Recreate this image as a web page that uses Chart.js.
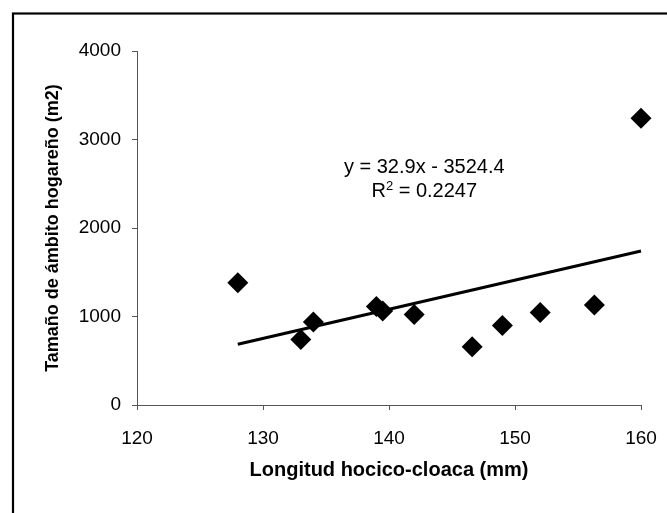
<!DOCTYPE html>
<html>
<head>
<meta charset="utf-8">
<script src="https://cdn.jsdelivr.net/npm/chart.js@4/dist/chart.umd.min.js"></script>
<style>
  html, body { margin: 0; padding: 0; background: #fff; }
  #wrap { width: 667px; height: 513px; }
</style>
</head>
<body>
<div id="wrap"><canvas id="c" width="667" height="513"></canvas></div>
<script>
// Snout-vent length (mm) vs. home range size (m2)
const svlMm = [128, 133, 134, 139, 139.5, 142, 146.6, 149, 152, 156.3, 160];
const homeRangeM2 = [1380, 741, 937, 1114, 1061, 1024, 658, 899, 1046, 1129, 3240];

// Linear fit as stated in the equation label
const fitSlope = 32.9;
const fitIntercept = -3524.4;
const fitR2 = 0.2247;
const fitRange = [128, 160];

const xTicks = [120, 130, 140, 150, 160];
const yTicks = [0, 1000, 2000, 3000, 4000];

const xTitle = 'Longitud hocico-cloaca (mm)';
const yTitle = 'Tamaño de ámbito hogareño (m2)';

const FONT = "'Liberation Sans', Arial, Helvetica, sans-serif";

const points = svlMm.map((x, i) => ({ x, y: homeRangeM2[i] }));
const fitLine = fitRange.map(x => ({ x, y: fitSlope * x + fitIntercept }));

// Outer frame of the chart object
const framePlugin = {
  id: 'frame',
  beforeDraw(chart) {
    const ctx = chart.ctx;
    ctx.save();
    ctx.fillStyle = '#fff';
    ctx.fillRect(0, 0, chart.width, chart.height);
    ctx.strokeStyle = '#000';
    ctx.lineWidth = 2.2;
    ctx.strokeRect(13, 13.5, 720, 560);
    ctx.restore();
  }
};

// Trendline equation and R² label
const eqAnchor = { x: 142.8, y1: 2680, y2: 2410 };
const equationPlugin = {
  id: 'equation',
  afterDatasetsDraw(chart) {
    const { ctx, scales } = chart;
    const cx = scales.x.getPixelForValue(eqAnchor.x);
    const y1 = scales.y.getPixelForValue(eqAnchor.y1);
    const y2 = scales.y.getPixelForValue(eqAnchor.y2);
    const big = '20px ' + FONT;
    const small = '13px ' + FONT;
    ctx.save();
    ctx.fillStyle = '#000';
    ctx.textBaseline = 'middle';
    ctx.font = big;
    const sign = fitIntercept < 0 ? ' - ' : ' + ';
    const line1 = 'y = ' + fitSlope + 'x' + sign + Math.abs(fitIntercept);
    ctx.textAlign = 'center';
    ctx.fillText(line1, cx, y1);

    // R² with a raised small "2"
    const partR = 'R';
    const partRest = ' = ' + fitR2;
    ctx.font = big;
    const wR = ctx.measureText(partR).width;
    const wRest = ctx.measureText(partRest).width;
    ctx.font = small;
    const w2 = ctx.measureText('2').width;
    const total = wR + w2 + wRest;
    let x = cx - total / 2;
    ctx.textAlign = 'left';
    ctx.font = big;
    ctx.fillText(partR, x, y2);
    x += wR;
    ctx.font = small;
    ctx.fillText('2', x, y2 - 5);
    x += w2;
    ctx.font = big;
    ctx.fillText(partRest, x, y2);
    ctx.restore();
  }
};

const plainNumber = v => String(v);

new Chart(document.getElementById('c'), {
  type: 'scatter',
  data: {
    datasets: [
      {
        type: 'line',
        data: fitLine,
        borderColor: '#000',
        borderWidth: 3,
        pointRadius: 0,
        fill: false,
        tension: 0,
        clip: false,
        order: 2
      },
      {
        data: points,
        pointStyle: 'rectRot',
        pointRadius: 10.5,
        pointHoverRadius: 10.5,
        backgroundColor: '#000',
        borderColor: '#000',
        borderWidth: 0,
        clip: false,
        order: 1
      }
    ]
  },
  options: {
    responsive: false,
    animation: false,
    events: [],
    layout: { padding: { left: 0, top: 51, right: 26, bottom: 0 } },
    plugins: {
      legend: { display: false },
      tooltip: { enabled: false }
    },
    scales: {
      x: {
        type: 'linear',
        min: xTicks[0],
        max: xTicks[xTicks.length - 1],
        afterBuildTicks(scale) { scale.ticks = xTicks.map(v => ({ value: v })); },
        afterFit(scale) {
          scale.height = 108;
          scale.paddingLeft = 0;
          scale.paddingRight = 0;
        },
        grid: {
          drawOnChartArea: false,
          drawTicks: true,
          tickLength: 5,
          tickColor: '#555',
          tickWidth: 1
        },
        border: { display: true, color: '#555', width: 1 },
        ticks: {
          color: '#000',
          padding: 17,
          font: { family: FONT, size: 19 },
          maxRotation: 0,
          callback: plainNumber
        },
        title: {
          display: true,
          text: xTitle,
          color: '#000',
          font: { family: FONT, size: 20, weight: 'bold' },
          padding: { top: 0, bottom: 31 }
        }
      },
      y: {
        type: 'linear',
        min: yTicks[0],
        max: yTicks[yTicks.length - 1],
        afterBuildTicks(scale) { scale.ticks = yTicks.map(v => ({ value: v })); },
        afterFit(scale) {
          scale.width = 137;
          scale.paddingTop = 0;
          scale.paddingBottom = 0;
        },
        grid: {
          drawOnChartArea: false,
          drawTicks: true,
          tickLength: 5,
          tickColor: '#555',
          tickWidth: 1
        },
        border: { display: true, color: '#555', width: 1 },
        ticks: {
          color: '#000',
          padding: 11,
          font: { family: FONT, size: 19 },
          callback: plainNumber
        },
        title: {
          display: true,
          text: yTitle,
          color: '#000',
          font: { family: FONT, size: 18, weight: 'bold' },
          padding: { top: 42, bottom: 0 }
        }
      }
    }
  },
  plugins: [framePlugin, equationPlugin]
});
</script>
</body>
</html>
